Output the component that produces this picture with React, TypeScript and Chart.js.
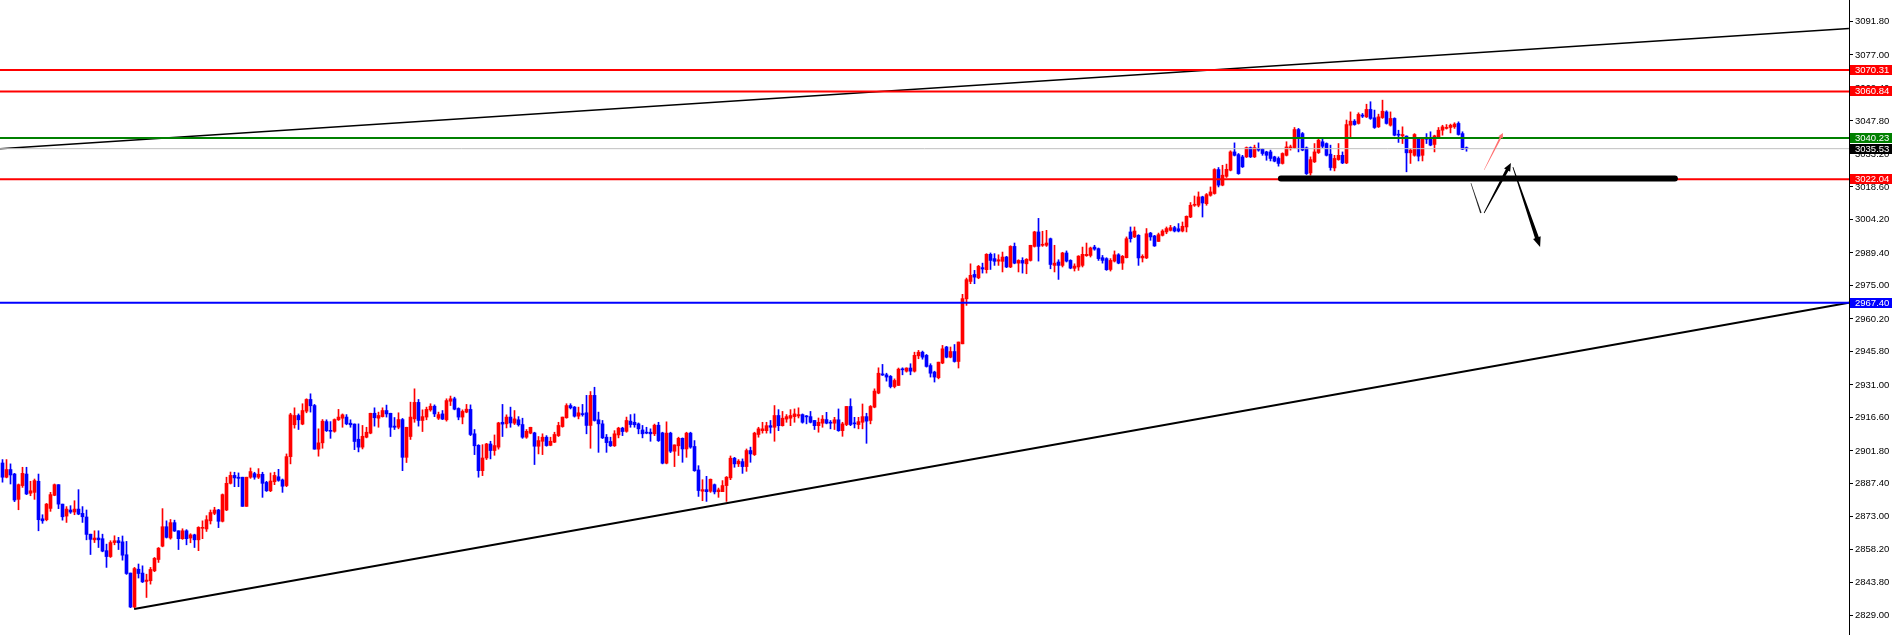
import React, { useEffect, useRef } from "react";
import { Chart, registerables } from "chart.js";

Chart.register(...registerables);

// ---- Candle data (index = bar number, oldest first) ----
const opens: number[] = [
  2896.5, 2890.2, 2893.6, 2891.6, 2880.4, 2886.5, 2891.6, 2883.1, 2883.5, 2888.4,
  2871.8, 2871.4, 2876.4, 2882.2, 2886.9, 2878.3, 2873.0, 2875.7, 2874.8, 2876.1,
  2874.2, 2872.6, 2865.0, 2862.5, 2863.3, 2863.0, 2857.7, 2855.1, 2861.3, 2862.1,
  2861.6, 2855.9, 2847.8, 2832.8, 2849.5, 2847.8, 2844.1, 2844.4, 2848.8, 2853.8,
  2859.7, 2868.3, 2863.3, 2870.1, 2866.5, 2863.0, 2866.5, 2863.3, 2864.7, 2862.5,
  2867.6, 2867.3, 2870.9, 2874.2, 2875.7, 2870.7, 2875.7, 2887.5, 2891.0, 2890.2,
  2890.2, 2877.3, 2890.2, 2891.8, 2890.2, 2891.5, 2887.9, 2884.2, 2888.2, 2890.4,
  2889.0, 2886.5, 2899.3, 2913.4, 2917.5, 2913.7, 2919.4, 2924.6, 2921.9, 2902.6,
  2905.4, 2914.8, 2910.8, 2910.5, 2915.6, 2916.3, 2916.8, 2914.1, 2913.7, 2907.0,
  2903.5, 2907.9, 2909.7, 2918.5, 2916.3, 2917.0, 2919.7, 2918.5, 2912.8, 2912.3,
  2915.7, 2899.0, 2908.2, 2916.0, 2923.3, 2915.3, 2916.8, 2920.0, 2921.6, 2916.3,
  2918.2, 2915.6, 2923.8, 2924.9, 2920.6, 2916.8, 2919.0, 2920.2, 2909.4, 2904.3,
  2893.1, 2898.7, 2904.9, 2902.0, 2903.5, 2914.5, 2913.8, 2916.8, 2914.1, 2915.6,
  2913.5, 2907.9, 2909.7, 2909.8, 2903.9, 2906.1, 2907.9, 2904.3, 2905.7, 2908.6,
  2912.6, 2916.5, 2921.9, 2921.2, 2917.2, 2918.2, 2918.7, 2913.1, 2926.4, 2915.6,
  2913.8, 2907.9, 2906.0, 2904.1, 2908.9, 2911.9, 2910.5, 2915.0, 2914.5, 2913.8,
  2911.1, 2910.1, 2910.1, 2909.4, 2913.2, 2909.8, 2896.4, 2909.7, 2901.7, 2904.1,
  2907.4, 2902.7, 2909.7, 2903.8, 2893.4, 2884.0, 2884.7, 2884.0, 2886.9, 2883.8,
  2883.8, 2886.5, 2889.9, 2898.6, 2896.1, 2897.1, 2894.9, 2902.0, 2900.2, 2909.1,
  2910.8, 2910.8, 2913.0, 2912.3, 2917.5, 2913.0, 2915.9, 2916.3, 2917.0, 2917.3,
  2917.9, 2917.2, 2917.0, 2915.3, 2913.0, 2914.1, 2915.7, 2914.4, 2914.1, 2915.6,
  2910.8, 2913.5, 2921.5, 2914.1, 2913.5, 2914.5, 2917.0, 2915.3, 2921.2, 2927.4,
  2935.9, 2935.5, 2934.8, 2930.3, 2930.8, 2938.0, 2937.1, 2938.5, 2937.1, 2943.9,
  2945.5, 2944.1, 2939.6, 2936.7, 2934.2, 2940.7, 2947.8, 2943.3, 2945.8, 2941.4,
  2949.2, 2969.1, 2976.8, 2979.9, 2978.4, 2982.9, 2982.0, 2988.8, 2986.9, 2985.8,
  2985.7, 2987.6, 2983.2, 2992.3, 2984.9, 2986.1, 2984.6, 2986.1, 2992.3, 2998.7,
  2992.8, 2992.8, 2995.7, 2983.9, 2985.4, 2983.9, 2989.4, 2986.1, 2982.6, 2983.2,
  2983.9, 2988.2, 2988.3, 2992.0, 2991.3, 2987.3, 2986.9, 2982.1, 2985.8, 2988.6,
  2984.9, 2987.3, 2998.7, 2996.5, 2997.2, 2987.2, 2987.2, 2998.2, 2996.9, 2994.5,
  2997.2, 2998.7, 2999.4, 3000.6, 3000.1, 2999.1, 3000.9, 3005.3, 3010.5, 3010.5,
  3014.2, 3011.2, 3014.9, 3015.7, 3026.3, 3019.4, 3023.3, 3026.0, 3034.1, 3032.9,
  3031.9, 3031.9, 3036.0, 3031.9, 3035.6, 3035.3, 3034.1, 3034.1, 3031.9, 3031.2,
  3029.0, 3032.6, 3035.9, 3036.0, 3044.0, 3042.2, 3035.9, 3024.8, 3029.7, 3033.8,
  3038.6, 3037.8, 3033.1, 3027.0, 3030.7, 3032.6, 3029.2, 3045.9, 3047.7, 3046.7,
  3050.4, 3049.6, 3052.9, 3049.2, 3045.2, 3049.3, 3051.8, 3045.9, 3048.9, 3041.9,
  3041.2, 3041.1, 3033.7, 3032.6, 3040.0, 3032.6, 3040.0, 3040.0, 3037.4, 3040.8,
  3043.7, 3044.5, 3044.9, 3045.2, 3046.7, 3042.2, 3035.6,
];

const highs: number[] = [
  2898.0, 2898.0, 2896.1, 2891.9, 2887.2, 2894.6, 2894.6, 2888.4, 2889.4, 2891.6,
  2873.6, 2878.6, 2883.5, 2887.2, 2886.9, 2878.3, 2877.2, 2877.6, 2879.8, 2884.7,
  2877.2, 2875.7, 2865.0, 2866.5, 2866.5, 2865.0, 2860.6, 2862.1, 2864.3, 2863.6,
  2864.2, 2861.8, 2847.8, 2850.3, 2851.8, 2851.0, 2847.3, 2850.3, 2854.7, 2859.1,
  2876.3, 2870.9, 2871.5, 2871.2, 2866.5, 2867.4, 2867.0, 2865.2, 2865.0, 2868.3,
  2870.9, 2873.2, 2875.7, 2876.9, 2876.0, 2882.8, 2890.2, 2892.5, 2892.4, 2892.1,
  2890.2, 2890.2, 2894.3, 2892.4, 2894.0, 2892.4, 2888.4, 2892.1, 2892.4, 2893.7,
  2889.4, 2900.5, 2918.5, 2920.9, 2918.2, 2922.7, 2924.9, 2927.1, 2922.4, 2911.6,
  2915.7, 2915.6, 2914.8, 2916.0, 2920.2, 2918.2, 2917.9, 2915.6, 2913.8, 2913.8,
  2913.1, 2912.3, 2918.5, 2920.9, 2919.0, 2920.9, 2922.1, 2918.5, 2916.6, 2918.7,
  2916.2, 2912.3, 2923.4, 2929.3, 2924.6, 2920.0, 2921.2, 2922.7, 2922.2, 2919.0,
  2919.7, 2924.9, 2926.1, 2925.6, 2920.9, 2920.0, 2922.4, 2922.2, 2911.3, 2904.6,
  2904.6, 2905.2, 2906.1, 2908.9, 2914.5, 2922.4, 2917.8, 2921.2, 2919.7, 2917.0,
  2916.3, 2911.3, 2912.3, 2910.1, 2908.2, 2909.4, 2908.6, 2907.9, 2910.1, 2914.5,
  2916.8, 2922.7, 2922.7, 2921.5, 2921.2, 2922.4, 2926.4, 2928.1, 2930.0, 2919.0,
  2915.3, 2909.1, 2907.9, 2910.8, 2912.3, 2912.3, 2916.8, 2917.9, 2918.2, 2914.2,
  2913.1, 2912.3, 2911.6, 2913.7, 2914.5, 2910.1, 2914.7, 2910.1, 2904.5, 2907.9,
  2907.6, 2910.1, 2910.1, 2906.4, 2895.3, 2889.1, 2890.6, 2889.4, 2887.2, 2885.4,
  2888.7, 2890.5, 2899.6, 2899.0, 2898.0, 2898.3, 2902.7, 2903.5, 2910.1, 2912.3,
  2914.5, 2914.5, 2915.3, 2921.9, 2920.1, 2919.3, 2917.9, 2920.1, 2920.4, 2920.9,
  2918.2, 2917.5, 2919.3, 2915.3, 2916.4, 2917.5, 2918.9, 2915.3, 2916.7, 2920.4,
  2914.5, 2921.5, 2924.9, 2916.7, 2916.7, 2922.6, 2918.5, 2921.9, 2929.3, 2938.6,
  2940.1, 2936.2, 2935.2, 2933.7, 2938.5, 2938.6, 2938.6, 2940.4, 2945.5, 2946.3,
  2946.0, 2944.5, 2940.4, 2937.1, 2941.1, 2948.5, 2948.1, 2947.8, 2948.9, 2950.0,
  2971.1, 2978.3, 2984.6, 2981.7, 2983.9, 2984.9, 2989.1, 2989.4, 2989.1, 2988.6,
  2989.8, 2987.9, 2992.6, 2993.8, 2986.4, 2987.3, 2986.9, 2992.8, 2999.0, 3004.7,
  2999.0, 2999.4, 2996.0, 2992.8, 2986.4, 2989.7, 2990.3, 2986.4, 2984.6, 2988.2,
  2992.0, 2993.8, 2992.0, 2992.8, 2991.6, 2988.3, 2987.3, 2986.9, 2990.3, 2989.1,
  2988.3, 2996.5, 3000.9, 3000.9, 2997.5, 2988.6, 3000.2, 2998.5, 2997.2, 2998.2,
  2999.7, 3000.9, 3001.6, 3001.2, 3002.4, 3003.1, 3005.8, 3011.7, 3014.6, 3016.4,
  3014.5, 3015.7, 3018.6, 3026.7, 3027.2, 3028.2, 3028.7, 3034.6, 3038.1, 3033.4,
  3032.6, 3036.3, 3036.3, 3037.1, 3038.1, 3035.6, 3034.4, 3034.9, 3032.2, 3031.9,
  3033.7, 3038.6, 3037.1, 3044.9, 3044.5, 3042.7, 3036.3, 3031.9, 3037.8, 3040.0,
  3039.7, 3038.1, 3037.1, 3032.6, 3037.8, 3034.1, 3048.2, 3051.8, 3048.4, 3051.4,
  3051.1, 3055.2, 3056.3, 3052.6, 3050.8, 3057.0, 3052.3, 3051.8, 3049.2, 3043.7,
  3045.2, 3041.2, 3035.6, 3042.2, 3040.3, 3040.3, 3042.2, 3043.0, 3041.5, 3044.9,
  3045.9, 3046.2, 3046.4, 3047.0, 3047.4, 3043.0, 3036.3,
];

const lows: number[] = [
  2888.0, 2889.9, 2887.2, 2879.4, 2875.8, 2885.7, 2882.5, 2882.0, 2880.4, 2866.5,
  2869.8, 2870.9, 2875.1, 2882.0, 2876.3, 2871.2, 2870.2, 2874.2, 2873.6, 2873.6,
  2870.2, 2862.5, 2856.0, 2861.3, 2859.1, 2857.2, 2850.3, 2854.7, 2860.3, 2858.2,
  2853.5, 2847.2, 2832.5, 2832.5, 2845.6, 2843.6, 2837.0, 2842.9, 2848.4, 2852.5,
  2859.4, 2863.3, 2862.8, 2866.2, 2858.2, 2862.7, 2860.3, 2861.2, 2859.1, 2857.7,
  2863.0, 2866.2, 2869.5, 2873.6, 2867.9, 2870.4, 2875.4, 2887.2, 2886.0, 2886.0,
  2877.3, 2877.3, 2889.7, 2889.3, 2889.6, 2881.3, 2883.9, 2883.8, 2886.9, 2888.4,
  2883.5, 2886.0, 2896.1, 2911.9, 2911.3, 2913.4, 2918.7, 2919.0, 2902.6, 2899.5,
  2903.0, 2910.4, 2907.4, 2910.1, 2915.3, 2912.3, 2913.4, 2912.3, 2902.4, 2901.4,
  2902.7, 2907.6, 2909.4, 2912.8, 2912.3, 2916.8, 2916.8, 2908.2, 2911.3, 2911.6,
  2893.1, 2896.7, 2906.9, 2914.5, 2912.8, 2910.4, 2915.6, 2919.4, 2917.0, 2915.7,
  2915.7, 2915.0, 2921.9, 2920.0, 2915.6, 2913.8, 2918.7, 2908.6, 2900.2, 2890.2,
  2890.9, 2898.0, 2898.3, 2899.9, 2902.6, 2908.2, 2912.0, 2912.3, 2913.5, 2912.8,
  2907.4, 2907.4, 2909.4, 2895.8, 2900.5, 2900.2, 2903.9, 2904.1, 2905.5, 2908.2,
  2912.3, 2916.3, 2920.4, 2916.8, 2916.0, 2917.2, 2909.4, 2903.0, 2915.0, 2901.2,
  2907.3, 2901.2, 2903.8, 2903.8, 2907.6, 2908.6, 2910.1, 2912.3, 2912.3, 2909.4,
  2907.6, 2909.4, 2906.1, 2908.6, 2906.0, 2896.1, 2896.1, 2901.1, 2894.9, 2899.8,
  2896.8, 2899.0, 2903.0, 2892.8, 2881.7, 2879.8, 2879.5, 2883.5, 2882.8, 2881.3,
  2883.8, 2879.5, 2889.1, 2894.6, 2894.9, 2891.9, 2892.8, 2896.8, 2899.8, 2907.9,
  2909.7, 2909.7, 2909.7, 2906.1, 2910.8, 2912.8, 2914.5, 2913.0, 2914.5, 2916.4,
  2914.1, 2913.8, 2914.2, 2911.3, 2910.1, 2912.3, 2913.8, 2911.6, 2911.3, 2910.5,
  2908.3, 2913.0, 2913.0, 2912.0, 2911.6, 2911.6, 2905.2, 2913.8, 2920.9, 2927.1,
  2935.2, 2932.7, 2929.7, 2929.7, 2930.8, 2935.5, 2936.7, 2935.5, 2936.7, 2942.6,
  2942.4, 2938.9, 2934.5, 2932.3, 2933.7, 2940.4, 2943.0, 2943.0, 2941.1, 2938.5,
  2949.2, 2966.2, 2975.8, 2975.8, 2978.0, 2980.5, 2980.5, 2982.1, 2983.9, 2983.9,
  2981.0, 2982.9, 2982.9, 2984.6, 2981.0, 2980.5, 2980.2, 2985.8, 2992.0, 2985.8,
  2992.3, 2992.3, 2982.4, 2981.0, 2977.7, 2983.2, 2985.4, 2982.4, 2981.4, 2981.7,
  2983.2, 2987.9, 2987.6, 2990.6, 2986.1, 2984.9, 2981.7, 2981.4, 2985.4, 2984.6,
  2982.1, 2987.2, 2994.2, 2996.2, 2983.9, 2985.4, 2986.9, 2995.0, 2992.3, 2994.5,
  2996.9, 2997.9, 2999.1, 2998.7, 2998.7, 2998.7, 2998.7, 3005.0, 3010.0, 3009.8,
  3005.3, 3010.5, 3014.5, 3015.4, 3018.6, 3019.1, 3022.8, 3025.7, 3032.3, 3024.2,
  3027.2, 3031.6, 3031.6, 3031.6, 3034.4, 3032.6, 3030.4, 3030.1, 3029.7, 3027.8,
  3028.7, 3032.3, 3034.9, 3035.6, 3034.1, 3034.6, 3024.1, 3023.8, 3029.4, 3033.4,
  3036.0, 3032.3, 3026.0, 3025.7, 3030.4, 3028.9, 3028.9, 3040.8, 3045.9, 3046.4,
  3049.3, 3049.3, 3048.5, 3044.5, 3044.9, 3048.9, 3046.4, 3045.5, 3041.2, 3038.3,
  3037.8, 3025.3, 3029.0, 3032.2, 3030.1, 3030.1, 3037.8, 3036.8, 3034.1, 3040.3,
  3041.5, 3044.2, 3042.5, 3044.5, 3041.5, 3035.1, 3034.4,
];

const closes: number[] = [
  2890.2, 2893.6, 2891.2, 2880.1, 2886.9, 2891.9, 2882.8, 2884.2, 2888.7, 2871.4,
  2870.9, 2878.3, 2882.5, 2886.9, 2878.3, 2872.7, 2876.1, 2874.8, 2876.1, 2873.9,
  2872.7, 2864.9, 2862.7, 2863.3, 2862.5, 2857.5, 2855.1, 2861.3, 2862.1, 2861.2,
  2855.7, 2847.6, 2832.8, 2849.8, 2847.6, 2843.9, 2844.7, 2849.4, 2854.3, 2858.8,
  2868.3, 2863.6, 2870.1, 2866.4, 2863.0, 2866.5, 2863.0, 2864.7, 2862.5, 2868.0,
  2868.0, 2871.4, 2874.6, 2875.7, 2870.7, 2882.5, 2887.5, 2891.0, 2889.9, 2889.7,
  2877.3, 2890.2, 2892.7, 2890.2, 2891.5, 2887.5, 2884.2, 2888.5, 2891.0, 2888.8,
  2886.2, 2899.3, 2917.8, 2917.5, 2915.6, 2919.7, 2924.6, 2921.8, 2902.6, 2905.4,
  2915.0, 2910.8, 2910.5, 2915.7, 2916.8, 2917.8, 2913.8, 2913.4, 2906.0, 2903.5,
  2908.3, 2910.1, 2918.5, 2916.5, 2917.5, 2919.7, 2918.2, 2912.3, 2912.3, 2915.7,
  2899.0, 2912.3, 2916.8, 2923.3, 2915.3, 2917.0, 2920.2, 2921.6, 2918.2, 2917.9,
  2915.9, 2924.1, 2924.9, 2920.3, 2916.8, 2919.3, 2920.3, 2909.1, 2904.1, 2893.1,
  2898.7, 2904.9, 2902.0, 2904.2, 2914.2, 2913.7, 2916.8, 2914.2, 2916.0, 2913.4,
  2907.9, 2910.5, 2912.3, 2903.9, 2906.4, 2907.9, 2904.2, 2906.1, 2909.1, 2913.1,
  2916.8, 2921.9, 2920.9, 2917.2, 2918.7, 2917.9, 2913.1, 2926.4, 2915.3, 2913.8,
  2907.6, 2905.5, 2904.1, 2909.4, 2911.9, 2910.4, 2915.3, 2913.5, 2913.4, 2911.6,
  2909.4, 2909.7, 2909.4, 2913.2, 2906.4, 2896.4, 2909.7, 2901.7, 2904.5, 2907.4,
  2902.7, 2909.7, 2903.5, 2893.1, 2884.3, 2884.7, 2883.8, 2889.3, 2883.7, 2884.6,
  2886.5, 2890.2, 2898.6, 2896.1, 2897.3, 2894.9, 2902.0, 2900.5, 2909.7, 2911.6,
  2911.6, 2913.0, 2912.3, 2917.5, 2913.0, 2916.3, 2917.0, 2917.5, 2918.2, 2917.9,
  2914.5, 2916.9, 2914.5, 2913.0, 2914.5, 2915.9, 2914.1, 2914.1, 2915.6, 2910.8,
  2913.8, 2921.5, 2913.5, 2913.8, 2914.8, 2917.0, 2915.0, 2921.5, 2928.3, 2936.2,
  2935.4, 2934.5, 2930.3, 2933.0, 2938.0, 2937.7, 2938.5, 2937.1, 2944.1, 2945.5,
  2943.3, 2939.2, 2936.2, 2934.5, 2941.1, 2947.0, 2943.3, 2945.8, 2941.4, 2950.0,
  2969.2, 2977.6, 2979.5, 2978.7, 2983.5, 2982.3, 2988.8, 2986.1, 2985.7, 2986.4,
  2987.6, 2983.2, 2992.3, 2984.9, 2986.1, 2984.9, 2986.6, 2992.8, 2998.7, 2992.3,
  2993.2, 2993.8, 2984.3, 2984.9, 2983.9, 2989.4, 2985.8, 2982.7, 2983.6, 2988.0,
  2988.8, 2988.8, 2991.6, 2991.1, 2986.9, 2986.1, 2982.0, 2986.1, 2988.6, 2984.9,
  2987.9, 2995.7, 2995.7, 2999.1, 2987.2, 2987.9, 2997.9, 2996.5, 2992.5, 2997.5,
  2999.1, 3000.2, 3000.6, 2999.1, 2999.1, 3001.2, 3005.6, 3010.5, 3010.9, 3014.2,
  3011.5, 3015.2, 3016.4, 3026.3, 3019.4, 3023.8, 3026.4, 3034.1, 3032.6, 3024.5,
  3027.5, 3036.0, 3031.9, 3036.0, 3034.9, 3033.4, 3032.6, 3031.2, 3030.0, 3029.0,
  3033.4, 3036.3, 3036.3, 3044.0, 3040.0, 3034.9, 3024.5, 3030.7, 3034.1, 3039.3,
  3036.6, 3032.6, 3027.2, 3031.2, 3032.6, 3029.2, 3046.2, 3047.7, 3046.2, 3050.7,
  3049.9, 3052.9, 3048.9, 3044.9, 3049.6, 3052.1, 3046.7, 3048.9, 3041.5, 3041.5,
  3041.8, 3033.7, 3034.9, 3041.8, 3032.2, 3040.0, 3039.7, 3037.1, 3041.2, 3043.7,
  3045.2, 3044.9, 3045.9, 3046.4, 3041.8, 3035.3, 3035.53,
];

// ---- Axis ticks (price scale) ----
const yTicks: number[] = [
  3091.8, 3077.0, 3062.4, 3047.8, 3033.2, 3018.6, 3004.2, 2989.4, 2975.0,
  2960.2, 2945.8, 2931.0, 2916.6, 2901.8, 2887.4, 2873.0, 2858.2, 2843.8, 2829.0,
];
const yMin = 2820.4;
const yMax = 3101.3;
const xMin = -0.625;
const xMax = 461.625;

// ---- Horizontal levels ----
const redLevels: number[] = [3070.31, 3060.84, 3022.04];
const greenLevel = 3040.23;
const blueLevel = 2967.4;
const bidLevel = closes[closes.length - 1];

// ---- Trendlines (bar index, price) ----
const upperTrendX: number[] = [-0.625, 461.6];
const upperTrendY: number[] = [3035.5, 3088.7];
const lowerTrendX: number[] = [32.9, 461.6];
const lowerTrendY: number[] = [2831.9, 2967.4];
const supportX: number[] = [319.6, 418.1];
const supportY: number[] = [3022.3, 3022.3];

// ---- Projection arrows (bar index, price) ----
const thinLegX: number[] = [367.1, 369.6];
const thinLegY: number[] = [3020.3, 3007.1];
const upArrowX: number[] = [370.4, 377.1];
const upArrowY: number[] = [3007.1, 3029.2];
const downArrowX: number[] = [377.6, 384.4];
const downArrowY: number[] = [3027.4, 2992.0];
const pinkArrowX: number[] = [370.4, 375.1];
const pinkArrowY: number[] = [3026.1, 3042.5];

const FONT = "Liberation Sans";

function drawTaper(
  ctx: CanvasRenderingContext2D,
  x1: number, y1: number, x2: number, y2: number,
  w1: number, w2: number, headLen: number, headW: number, color: string
) {
  const dx = x2 - x1;
  const dy = y2 - y1;
  const len = Math.hypot(dx, dy);
  const ux = dx / len;
  const uy = dy / len;
  const nx = -uy;
  const ny = ux;
  const bx = x2 - ux * headLen;
  const by = y2 - uy * headLen;
  ctx.save();
  ctx.fillStyle = color;
  ctx.beginPath();
  ctx.moveTo(x1 + nx * w1 / 2, y1 + ny * w1 / 2);
  ctx.lineTo(bx + nx * w2 / 2, by + ny * w2 / 2);
  if (headLen > 0) {
    ctx.lineTo(bx + nx * headW / 2, by + ny * headW / 2);
    ctx.lineTo(x2, y2);
    ctx.lineTo(bx - nx * headW / 2, by - ny * headW / 2);
  }
  ctx.lineTo(bx - nx * w2 / 2, by - ny * w2 / 2);
  ctx.lineTo(x1 - nx * w1 / 2, y1 - ny * w1 / 2);
  ctx.closePath();
  ctx.fill();
  ctx.restore();
}

const overlayPlugin = {
  id: "overlay",
  afterDatasetsDraw(chart: any) {
    const { ctx, scales } = chart;
    const xs = scales.x;
    const ys = scales.y;
    const px = (v: number) => xs.getPixelForValue(v);
    const py = (v: number) => ys.getPixelForValue(v);
    drawTaper(ctx, px(thinLegX[0]), py(thinLegY[0]), px(thinLegX[1]), py(thinLegY[1]), 0.6, 1.4, 0, 0, "#222");
    drawTaper(ctx, px(upArrowX[0]), py(upArrowY[0]), px(upArrowX[1]), py(upArrowY[1]), 0.8, 3, 8, 7, "#000");
    drawTaper(ctx, px(downArrowX[0]), py(downArrowY[0]), px(downArrowX[1]), py(downArrowY[1]), 0.8, 4, 10, 8, "#000");
    drawTaper(ctx, px(pinkArrowX[0]), py(pinkArrowY[0]), px(pinkArrowX[1]), py(pinkArrowY[1]), 0.5, 2, 5, 5, "#ff7070");
  },
  afterDraw(chart: any) {
    const { ctx, chartArea, scales, width } = chart;
    const ys = scales.y;
    const labels: { v: number; c: string }[] = [
      ...redLevels.map((v) => ({ v, c: "#ff0000" })),
      { v: greenLevel, c: "#008000" },
      { v: bidLevel, c: "#000000" },
      { v: blueLevel, c: "#0000ff" },
    ];
    ctx.save();
    ctx.font = `9.5px "${FONT}"`;
    ctx.textBaseline = "middle";
    ctx.textAlign = "left";
    for (const l of labels) {
      const y = Math.round(ys.getPixelForValue(l.v));
      ctx.fillStyle = l.c;
      ctx.fillRect(chartArea.right + 1, y - 5, width - chartArea.right - 1, 10);
      ctx.fillStyle = "#ffffff";
      ctx.fillText(l.v.toFixed(2), chartArea.right + 6, y + 0.5);
    }
    ctx.restore();
  },
};

function hLine(price: number, color: string, width: number) {
  return {
    type: "line" as const,
    data: [
      { x: -2, y: price },
      { x: 470, y: price },
    ],
    borderColor: color,
    borderWidth: width,
    pointRadius: 0,
    fill: false,
    order: 0,
  };
}

function segLine(xv: number[], yv: number[], color: string, width: number, cap = "butt") {
  return {
    type: "line" as const,
    data: xv.map((x, i) => ({ x, y: yv[i] })),
    borderColor: color,
    borderWidth: width,
    borderCapStyle: cap,
    pointRadius: 0,
    fill: false,
    order: 0,
  };
}

export default function App() {
  const canvasRef = useRef<HTMLCanvasElement | null>(null);

  useEffect(() => {
    const canvas = canvasRef.current;
    if (!canvas) return;
    const colors = closes.map((c, i) => (c >= opens[i] ? "#ff0000" : "#0000ff"));
    const bodies = closes.map((c, i) => ({ x: i, y: [opens[i], c] }));
    const wicks = closes.map((_, i) => ({ x: i, y: [lows[i], highs[i]] }));

    const chart = new Chart(canvas, {
      type: "bar",
      data: {
        datasets: [
          segLine(supportX, supportY, "#000000", 6, "round"),
          hLine(bidLevel, "#c0c0c0", 1),
          ...redLevels.map((v) => hLine(v, "#ff0000", 2)),
          hLine(greenLevel, "#008000", 2),
          hLine(blueLevel, "#0000ff", 2),
          segLine(upperTrendX, upperTrendY, "#000000", 1.6),
          segLine(lowerTrendX, lowerTrendY, "#000000", 2),
          {
            type: "bar",
            data: bodies as any,
            backgroundColor: colors,
            borderWidth: 0,
            barThickness: 3,
            minBarLength: 1,
            grouped: false,
            order: 2,
          } as any,
          {
            type: "bar",
            data: wicks as any,
            backgroundColor: colors,
            borderWidth: 0,
            barThickness: 1,
            grouped: false,
            order: 3,
          } as any,
        ] as any,
      },
      options: {
        animation: false,
        responsive: false,
        devicePixelRatio: 1,
        events: [],
        layout: { padding: 0 },
        plugins: {
          legend: { display: false },
          tooltip: { enabled: false },
        },
        scales: {
          x: {
            type: "linear",
            display: false,
            offset: false,
            min: xMin,
            max: xMax,
          },
          y: {
            type: "linear",
            position: "right",
            min: yMin,
            max: yMax,
            afterBuildTicks: (s: any) => {
              s.ticks = yTicks.map((v) => ({ value: v }));
            },
            afterFit: (s: any) => {
              s.width = 43;
              s.paddingTop = 0;
              s.paddingBottom = 0;
            },
            grid: {
              display: true,
              drawOnChartArea: false,
              drawTicks: true,
              tickLength: 4,
              color: "#000000",
              lineWidth: 1,
            },
            border: { display: true, color: "#000000", width: 1 },
            ticks: {
              autoSkip: false,
              color: "#000000",
              padding: 2,
              font: { family: FONT, size: 9.5 },
              callback: (v: any) => Number(v).toFixed(2),
            },
          },
        },
      } as any,
      plugins: [overlayPlugin],
    });
    return () => chart.destroy();
  }, []);

  return (
    <div
      style={{
        position: "fixed",
        left: 0,
        top: 0,
        width: 1892,
        height: 635,
        background: "#ffffff",
      }}
    >
      <canvas ref={canvasRef} width={1892} height={635} style={{ display: "block" }} />
    </div>
  );
}
